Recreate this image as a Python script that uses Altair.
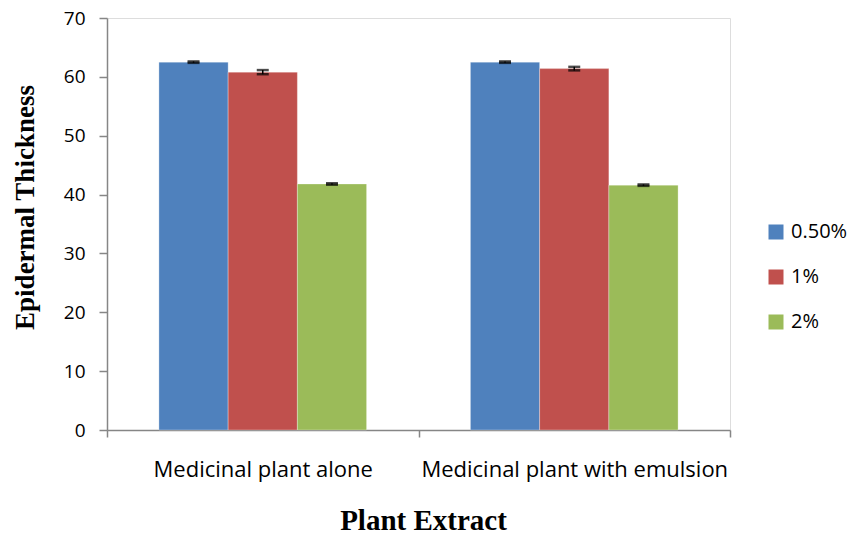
import altair as alt
import pandas as pd

categories = ["Medicinal plant alone", "Medicinal plant with emulsion"]
series = ["0.50%", "1%", "2%"]
values_alone = [62.5, 60.8, 41.8]
values_emulsion = [62.5, 61.4, 41.6]
err_alone = [0.12, 0.35, 0.12]
err_emulsion = [0.12, 0.3, 0.12]
colors = ["#4F81BD", "#C0504D", "#9BBB59"]
y_ticks = [0, 10, 20, 30, 40, 50, 60, 70]

rows = []
for cat, vals, errs in [(categories[0], values_alone, err_alone),
                        (categories[1], values_emulsion, err_emulsion)]:
    for s, v, e in zip(series, vals, errs):
        rows.append({"cat": cat, "series": s, "value": v, "lo": v - e, "hi": v + e})
df = pd.DataFrame(rows)

axis_grey = "#868686"

x_enc = alt.X(
    "cat:N", sort=categories,
    scale=alt.Scale(paddingInner=0, paddingOuter=0),
    axis=alt.Axis(
        title="Plant Extract", titleFont="Liberation Serif", titleFontWeight="bold",
        titleFontSize=29, titleColor="black", titleX=316, titleY=99,
        titleAlign="center", titleBaseline="alphabetic",
        labelFont="Open Sans", labelFontSize=22, labelColor="black", labelAngle=0,
        labelPadding=22, labelLimit=400,
        tickBand="extent", tickSize=7, tickColor=axis_grey, tickWidth=1.5,
        domainColor=axis_grey, domainWidth=1.5,
    ),
)
xo_enc = alt.XOffset("series:N", sort=series,
                     scale=alt.Scale(paddingInner=0, paddingOuter=0.75))
y_scale = alt.Scale(domain=[0, 70], nice=False)
y_enc = alt.Y(
    "value:Q", scale=y_scale,
    axis=alt.Axis(
        title="Epidermal Thickness", titleFont="Liberation Serif", titleFontWeight="bold",
        titleFontSize=27, titleColor="black", titleAngle=270, titleX=-82, titleY=189,
        titleAlign="center", titleBaseline="middle",
        values=y_ticks, grid=False, labelFont="Open Sans", labelFontSize=19,
        labelColor="black", labelPadding=14, tickSize=8, tickColor=axis_grey,
        tickWidth=1.5, domainColor=axis_grey, domainWidth=1.5,
    ),
)
color_enc = alt.Color(
    "series:N", sort=series,
    scale=alt.Scale(domain=series, range=colors),
    legend=alt.Legend(
        title=None, orient="none", legendX=659, legendY=204,
        symbolType="square", symbolSize=225, symbolStrokeWidth=0, symbolOpacity=1,
        labelFont="Open Sans", labelFontSize=20, labelColor="black",
        labelOffset=5, rowPadding=25, labelLimit=200,
    ),
)

bars = alt.Chart(df).mark_bar(stroke="white", strokeWidth=0.5, strokeOpacity=0.6).encode(
    x=x_enc, xOffset=xo_enc, y=y_enc, color=color_enc
)
rule = alt.Chart(df).mark_rule(color="black", strokeWidth=1.5).encode(
    x=alt.X("cat:N", sort=categories), xOffset=xo_enc,
    y=alt.Y("lo:Q", scale=y_scale), y2="hi:Q"
)
cap_hi = alt.Chart(df).mark_tick(color="black", size=12, thickness=2.5).encode(
    x=alt.X("cat:N", sort=categories), xOffset=xo_enc, y=alt.Y("hi:Q", scale=y_scale)
)
cap_lo = alt.Chart(df).mark_tick(color="black", size=12, thickness=2.5).encode(
    x=alt.X("cat:N", sort=categories), xOffset=xo_enc, y=alt.Y("lo:Q", scale=y_scale)
)

chart = (
    alt.layer(bars, rule, cap_hi, cap_lo)
    .properties(
        width=623, height=412,
        autosize=alt.AutoSizeParams(type="none"),
        padding={"left": 99, "top": 10, "right": 118, "bottom": 106},
    )
    .configure_view(stroke=None)
    .configure(background="white")
)

chart.save("out.html", embed_options={"renderer": "svg", "actions": False})
